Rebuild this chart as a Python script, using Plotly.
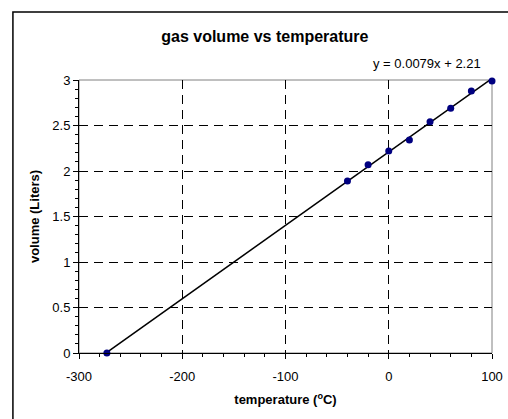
import numpy as np
import plotly.graph_objects as go

# Data
temperature_c = [-273, -40, -20, 0, 20, 40, 60, 80, 100]
volume_l = [0.0, 1.89, 2.07, 2.22, 2.34, 2.54, 2.69, 2.88, 2.99]
x_ticks = [-300, -200, -100, 0, 100]
x_tick_labels = ["-300", "-200", "-100", "0", "100"]
y_ticks = [0, 0.5, 1, 1.5, 2, 2.5, 3]
y_tick_labels = ["0", "0.5", "1", "1.5", "2", "2.5", "3"]
equation_label = "y = 0.0079x + 2.21"

FONT = "Liberation Sans, Arial, sans-serif"

# linear trendline over the data range
fit = np.polyfit(temperature_c, volume_l, 1)
trend_x = [min(temperature_c), max(temperature_c)]
trend_y = [fit[0] * v + fit[1] for v in trend_x]

fig = go.Figure()
fig.add_trace(go.Scatter(x=trend_x, y=trend_y, mode="lines",
                         line=dict(color="black", width=1.5),
                         hoverinfo="skip", showlegend=False, cliponaxis=False))
fig.add_trace(go.Scatter(x=temperature_c, y=volume_l, mode="markers",
                         marker=dict(color="#000080", size=7),
                         showlegend=False, cliponaxis=False))

axis_common = dict(
    showline=True, linecolor="black", linewidth=1,
    ticks="outside", ticklen=5, tickcolor="black",
    showgrid=True, gridcolor="black", griddash="9px,6px", gridwidth=1,
    zeroline=False, tickfont=dict(family=FONT, size=13, color="black"),
    automargin=False,
)

fig.update_xaxes(range=[-300, 100], tickvals=x_ticks, ticktext=x_tick_labels,
                 ticklabelstandoff=6,
                 minor=dict(dtick=20, ticks="outside", ticklen=3, tickcolor="black", showgrid=False),
                 title=dict(text="<b>temperature (<sup>o</sup>C)</b>",
                            font=dict(family=FONT, size=13, color="black"), standoff=12),
                 **axis_common)
fig.update_yaxes(range=[0, 3], tickvals=y_ticks, ticktext=y_tick_labels,
                 minor=dict(dtick=0.1, ticks="outside", ticklen=3, tickcolor="black", showgrid=False),
                 title=dict(text="<b>volume (Liters)</b>",
                            font=dict(family=FONT, size=13, color="black"), standoff=9),
                 **axis_common)

fig.update_layout(
    width=508, height=419,
    margin=dict(l=79, r=16, t=80, b=66),
    paper_bgcolor="white", plot_bgcolor="white",
    font=dict(family=FONT, color="black"),
    title=dict(text="<b>gas volume vs temperature</b>", xref="paper", x=0.45,
               xanchor="center", yref="container", y=1 - 36 / 419, yanchor="middle",
               font=dict(family=FONT, size=16, color="black")),
    shapes=[
        dict(type="rect", xref="paper", yref="paper", x0=0, x1=1, y0=0, y1=1,
             line=dict(color="#808080", width=1), layer="between"),
        dict(type="rect", xref="paper", yref="paper", x0=-0.16, x1=1.2, y0=-0.4, y1=1.249,
             line=dict(color="black", width=1.5), layer="above"),
    ],
    annotations=[
        dict(text=equation_label, xref="paper", yref="paper",
             x=0.843, y=1.062, xanchor="center", yanchor="middle", showarrow=False,
             font=dict(family=FONT, size=13, color="black")),
    ],
)

fig.write_html("out.html", config={"displayModeBar": False},
               post_script="document.body.style.margin='0';")
